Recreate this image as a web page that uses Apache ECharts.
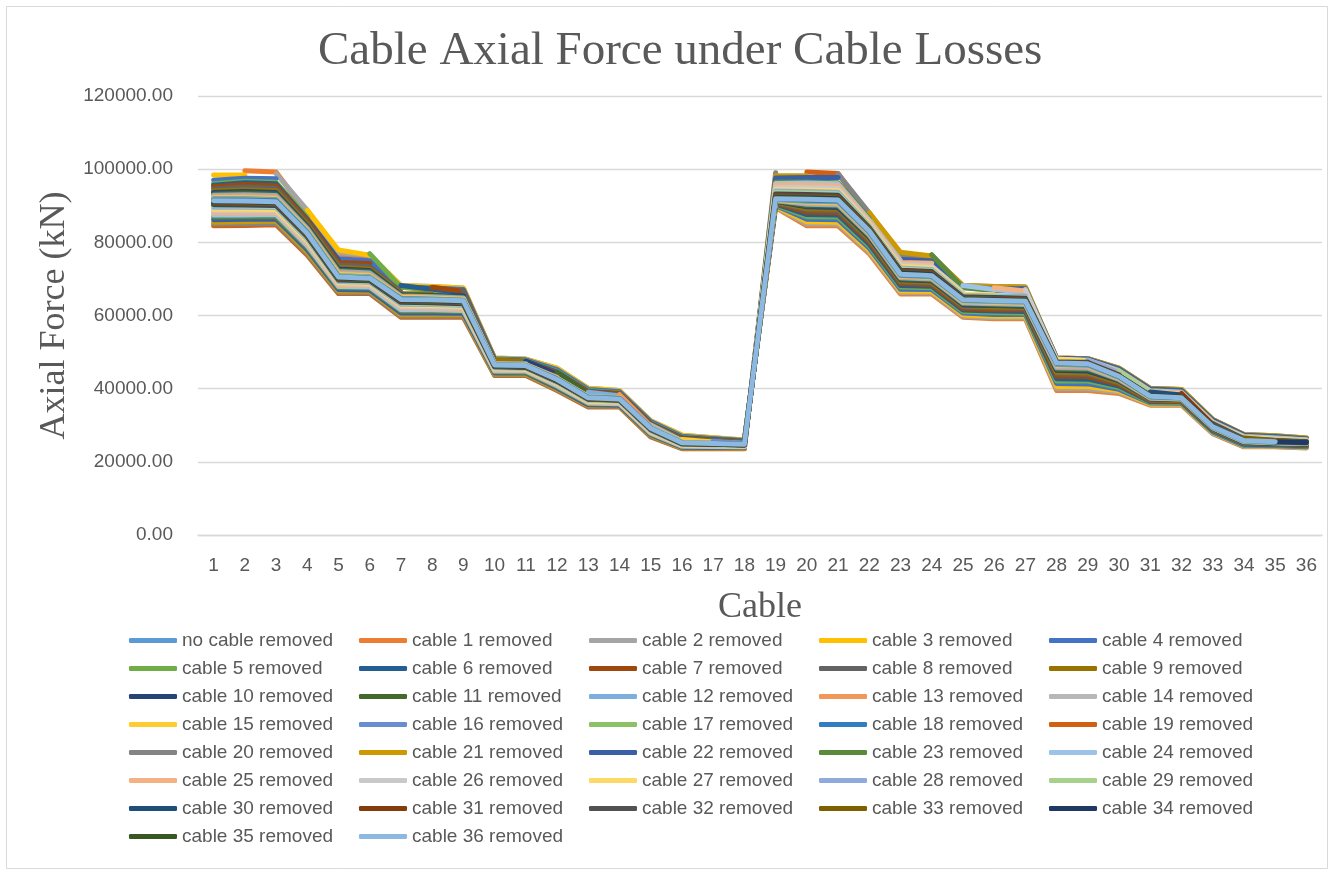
<!DOCTYPE html>
<html>
<head>
<meta charset="utf-8">
<title>Cable Axial Force under Cable Losses</title>
<script src="https://cdn.jsdelivr.net/npm/echarts@6/dist/echarts.min.js"></script>
<style>
  html, body { margin: 0; padding: 0; background: #ffffff; }
  #chart { width: 1331px; height: 873px; }
</style>
</head>
<body>
<div id="chart"></div>
<script>
// Cable positions along the bridge (x axis categories)
const categories = ['1','2','3','4','5','6','7','8','9','10','11','12','13','14','15','16','17','18',
  '19','20','21','22','23','24','25','26','27','28','29','30','31','32','33','34','35','36'];

// Axial force (kN) in every cable, one array per damage case; null = the removed cable
const noCableRemoved = [91500,91400,91200,82500,70500,70200,64500,64300,64000,46500,46300,42500,37500,37200,29200,25200,25000,24800,
  91800,91600,91400,83000,71200,70800,64200,64000,63800,47000,46800,43300,37800,37500,29600,25800,25400,25200];
const cable1Removed = [null,99600,99200,87900,76800,76200,68000,67700,67300,48300,48000,45400,40000,39300,31100,27200,26500,25900,
  89500,84500,84500,76900,65900,65900,59500,59100,59100,39500,39500,38700,35500,35500,27700,24100,24100,23800];
const cable2Removed = [97900,null,98800,88800,77200,76500,68200,67900,67500,48400,48100,45600,40100,39500,31200,27300,26600,26000,
  89700,85000,85000,77300,66300,66200,59800,59400,59400,40000,40000,39000,35700,35600,27800,24200,24200,23900];
const cable3Removed = [98400,98400,null,88800,77900,76500,68200,67900,67500,48400,48100,45600,40100,39500,31200,27300,26600,26000,
  89800,85600,85500,77800,66700,66600,60200,59800,59800,40600,40600,39400,35800,35800,28000,24400,24300,24000];
const cable4Removed = [97000,97500,97400,null,75500,75000,67800,67500,67100,48200,47900,45200,39800,39200,31000,27000,26400,25800,
  90100,86300,86200,78400,67200,67100,60700,60300,60300,41400,41300,39800,36100,36000,28200,24500,24400,24100];
const cable5Removed = [96000,96700,96400,86800,null,76900,67700,66900,66500,47900,47600,44700,39400,38800,30600,26700,26200,25600,
  90300,87000,86900,79000,67800,67600,61100,60800,60700,42100,42100,40300,36300,36200,28400,24700,24600,24300];
const cable6Removed = [95600,96300,96000,86300,75200,null,68200,67200,66300,47800,47500,44500,39200,38700,30500,26600,26100,25600,
  90500,87600,87500,79500,68200,68000,61500,61200,61100,42700,42600,40700,36500,36400,28500,24800,24700,24400];
const cable7Removed = [95200,95800,95500,85900,74500,74200,null,67700,66600,47600,47400,44300,39100,38600,30400,26400,26000,25500,
  90700,88200,88100,80100,68700,68400,61900,61600,61500,43400,43300,41100,36700,36500,28700,25000,24800,24500];
const cable8Removed = [94600,95100,94800,85300,73800,73400,66500,null,66900,47700,47200,44000,38800,38300,30200,26200,25800,25400,
  90900,88800,88600,80600,69100,68800,62300,62000,61900,44000,43900,41500,36900,36700,28800,25100,24900,24600];
const cable9Removed = [94000,94400,94100,84800,73200,72700,66000,65900,null,47900,47300,43700,38500,38100,30000,26000,25600,25300,
  91000,89200,89100,80900,69400,69100,62600,62300,62200,44400,44300,41700,37000,36800,29000,25200,25000,24700];
const cable10Removed = [93600,93900,93600,84400,72700,72300,65700,65500,65300,null,47500,43900,38400,38000,29900,25900,25500,25200,
  91200,89700,89500,81400,69800,69500,62900,62700,62500,45000,44800,42100,37200,37000,29100,25300,25000,24800];
const cable11Removed = [93200,93500,93200,84100,72400,72000,65500,65300,65000,47100,null,44400,38600,37800,29800,25800,25400,25100,
  91300,90000,89900,81700,70000,69700,63200,62900,62800,45300,45200,42300,37300,37100,29200,25400,25100,24900];
const cable12Removed = [92900,93000,92800,83800,72000,71600,65300,65100,64800,46900,46800,null,39000,38000,29600,25700,25400,25100,
  91400,90400,90200,82000,70300,70000,63400,63200,63000,45700,45600,42500,37400,37200,29300,25500,25200,25000];
const cable13Removed = [92600,92700,92500,83500,71700,71300,65200,64900,64600,46800,46600,43100,null,38400,29800,25600,25300,25000,
  91500,90700,90500,82200,70500,70200,63600,63400,63200,46000,45900,42700,37500,37200,29400,25600,25200,25000];
const cable14Removed = [92300,92400,92200,83300,71400,71000,65000,64800,64500,46800,46500,42900,37900,null,30100,25800,25200,25000,
  91600,90900,90700,82400,70700,70300,63700,63500,63300,46200,46100,42800,37600,37300,29400,25600,25300,25100];
const cable15Removed = [92100,92100,91900,83100,71200,70800,64900,64700,64400,46700,46500,42800,37800,37500,null,26100,25400,24900,
  91600,91100,90900,82600,70800,70500,63900,63700,63500,46500,46300,43000,37600,37400,29500,25700,25300,25100];
const cable16Removed = [91900,91900,91700,82900,70900,70600,64700,64500,64200,46600,46400,42700,37700,37400,29400,null,25600,25000,
  91700,91200,91100,82700,70900,70600,64000,63800,63600,46600,46400,43100,37700,37400,29500,25700,25300,25100];
const cable17Removed = [91800,91700,91500,82800,70800,70500,64700,64500,64200,46600,46400,42600,37600,37300,29300,25400,null,25200,
  91700,91400,91200,82800,71000,70700,64100,63900,63700,46800,46600,43200,37700,37400,29500,25700,25400,25200];
const cable18Removed = [91600,91600,91400,82600,70600,70300,64600,64400,64100,46500,46300,42600,37600,37300,29200,25200,25100,null,
  91800,91500,91300,82900,71100,70800,64200,64000,63800,46900,46700,43300,37800,37500,29600,25800,25400,25200];
const cable19Removed = [84500,84600,84800,76500,66000,66000,59500,59500,59500,43600,43600,39500,35000,35000,26800,23600,23600,23600,
  null,99200,98800,87300,76400,76000,67900,67700,67500,48400,48200,45500,40000,39600,31500,27400,27000,26400];
const cable20Removed = [85000,85100,85200,76900,66300,66300,59800,59800,59800,43800,43800,39700,35200,35200,27000,23700,23700,23700,
  99000,null,98700,88100,76700,76300,68200,67900,67800,48400,48200,45600,40100,39800,31600,27500,27100,26500];
const cable21Removed = [85500,85600,85800,77400,66700,66600,60200,60200,60200,44000,44000,39900,35400,35300,27200,23800,23800,23800,
  98200,98200,null,88100,77300,76300,68200,67900,67800,48400,48200,45600,40100,39800,31600,27500,27100,26500];
const cable22Removed = [86200,86300,86400,78000,67100,67000,60700,60700,60600,44300,44300,40200,35600,35500,27400,24000,23900,23900,
  97600,97700,97700,null,75300,74900,67700,67400,67300,48300,48100,45400,39900,39500,31400,27300,26900,26300];
const cable23Removed = [86900,87000,87000,78600,67600,67500,61200,61200,61100,44600,44500,40500,35900,35800,27600,24200,24100,24000,
  96500,96500,96300,86500,null,76600,67600,66800,66700,48000,47800,45000,39500,39100,31000,27000,26600,26100];
const cable24Removed = [87500,87500,87600,79100,67900,67800,61600,61600,61400,44800,44800,40800,36100,35900,27800,24300,24200,24100,
  96100,96200,96000,86100,75000,null,68200,67100,66400,48000,47800,44900,39400,39000,30900,26900,26500,26000];
const cable25Removed = [88100,88100,88100,79600,68300,68200,62100,62000,61800,45100,45000,41100,36300,36100,28000,24400,24300,24200,
  95700,95700,95500,85800,74500,74300,null,67600,66700,47900,47700,44700,39200,38900,30800,26800,26400,26000];
const cable26Removed = [88700,88700,88600,80100,68700,68500,62500,62400,62200,45300,45200,41300,36500,36300,28200,24600,24400,24300,
  95000,95000,94800,85300,73900,73500,66300,null,67100,47900,47500,44500,39000,38600,30600,26700,26300,25800];
const cable27Removed = [89100,89100,89000,80500,69000,68800,62800,62700,62500,45500,45400,41500,36600,36400,28400,24700,24500,24400,
  94400,94300,94100,84800,73400,73000,65800,65700,null,48100,47600,44200,38700,38400,30400,26500,26100,25700];
const cable28Removed = [89600,89600,89500,80900,69300,69100,63100,63000,62800,45700,45600,41700,36800,36600,28500,24800,24600,24500,
  94000,93900,93700,84500,73000,72600,65500,65300,65300,null,47800,44400,38600,38300,30300,26400,26000,25600];
const cable29Removed = [90000,89900,89800,81200,69500,69300,63400,63200,63000,45900,45700,41800,36900,36700,28700,24800,24700,24500,
  93600,93500,93300,84300,72700,72300,65300,65100,64900,47400,null,44700,38800,38100,30200,26300,25900,25600];
const cable30Removed = [90300,90200,90100,81500,69700,69500,63600,63500,63200,46000,45800,42000,37100,36800,28800,24900,24800,24600,
  93200,93100,92900,84000,72400,72000,65100,64900,64700,47300,47200,null,39100,38300,30000,26200,25800,25500];
const cable31Removed = [90600,90500,90400,81700,69900,69700,63800,63700,63400,46100,45900,42100,37200,36900,28900,25000,24800,24600,
  93000,92800,92600,83800,72200,71800,64900,64700,64500,47300,47100,43800,null,38700,30200,26100,25700,25400];
const cable32Removed = [90800,90700,90600,81900,70000,69800,64000,63800,63500,46200,46000,42200,37200,37000,29000,25000,24900,24700,
  92700,92500,92300,83600,71900,71500,64700,64500,64300,47200,47000,43600,38200,null,30500,26300,25600,25400];
const cable33Removed = [91000,90900,90700,82100,70200,69900,64100,64000,63700,46300,46100,42300,37300,37000,29000,25100,24900,24700,
  92400,92300,92100,83500,71700,71300,64600,64400,64200,47100,46900,43500,38000,37800,null,26500,25800,25300];
const cable34Removed = [91100,91100,90900,82200,70300,70000,64200,64100,63800,46300,46200,42300,37400,37100,29100,25100,24900,24700,
  92200,92100,91900,83300,71600,71200,64500,64300,64100,47100,46900,43500,38000,37700,29800,null,25500,25300];
const cable35Removed = [91300,91200,91000,82300,70400,70100,64300,64200,63900,46400,46200,42400,37400,37100,29100,25100,25000,24800,
  92100,91900,91700,83200,71400,71000,64400,64200,64000,47100,46900,43400,37900,37600,29700,25900,null,25700];
const cable36Removed = [91400,91300,91100,82400,70500,70200,64400,64300,64000,46500,46300,42500,37500,37200,29200,25200,25000,24800,
  91900,91800,91600,83100,71300,70900,64300,64100,63900,47000,46800,43400,37900,37500,29600,25800,25500,null];

// Legend names, in drawing order
const seriesNames = ['no cable removed','cable 1 removed','cable 2 removed','cable 3 removed','cable 4 removed',
  'cable 5 removed','cable 6 removed','cable 7 removed','cable 8 removed','cable 9 removed',
  'cable 10 removed','cable 11 removed','cable 12 removed','cable 13 removed','cable 14 removed',
  'cable 15 removed','cable 16 removed','cable 17 removed','cable 18 removed','cable 19 removed',
  'cable 20 removed','cable 21 removed','cable 22 removed','cable 23 removed','cable 24 removed',
  'cable 25 removed','cable 26 removed','cable 27 removed','cable 28 removed','cable 29 removed',
  'cable 30 removed','cable 31 removed','cable 32 removed','cable 33 removed','cable 34 removed',
  'cable 35 removed','cable 36 removed'];

const seriesValues = [noCableRemoved, cable1Removed, cable2Removed, cable3Removed, cable4Removed,
  cable5Removed, cable6Removed, cable7Removed, cable8Removed, cable9Removed,
  cable10Removed, cable11Removed, cable12Removed, cable13Removed, cable14Removed,
  cable15Removed, cable16Removed, cable17Removed, cable18Removed, cable19Removed,
  cable20Removed, cable21Removed, cable22Removed, cable23Removed, cable24Removed,
  cable25Removed, cable26Removed, cable27Removed, cable28Removed, cable29Removed,
  cable30Removed, cable31Removed, cable32Removed, cable33Removed, cable34Removed,
  cable35Removed, cable36Removed];

// Office-style line palette (accents, then darker / lighter variants)
const lineColors = ['#5B9BD5','#ED7D31','#A5A5A5','#FFC000','#4472C4','#70AD47',
  '#255E91','#9E480E','#636363','#997300','#264478','#43682B',
  '#7CAFDD','#F1975A','#B7B7B7','#FFCD33','#698ED0','#8CC168',
  '#327DC2','#D26012','#848484','#CC9A00','#3A5FA5','#5A8A3A',
  '#9DC3E6','#F4B183','#C9C9C9','#FFD966','#8FAADC','#A9D18E',
  '#1F4E79','#843C0C','#525252','#7F6000','#203864','#385723',
  '#8DB8E2'];

const textGrey = '#595959';
const gridGrey = '#D9D9D9';

const chart = echarts.init(document.getElementById('chart'), null, { renderer: 'canvas' });

const series = seriesNames.map((name, i) => ({
  name: name,
  type: 'line',
  data: seriesValues[i],
  showSymbol: false,
  symbol: 'none',
  connectNulls: false,
  color: lineColors[i],
  lineStyle: { width: 5, color: lineColors[i], cap: 'round', join: 'round' },
  emphasis: { disabled: true }
}));

chart.setOption({
  animation: false,
  backgroundColor: '#ffffff',
  title: {
    text: 'Cable Axial Force under Cable Losses',
    left: 318,
    top: 28,
    padding: 0,
    textStyle: { fontFamily: 'Liberation Serif', fontSize: 47, fontWeight: 'normal', color: textGrey }
  },
  graphic: [{
    type: 'rect',
    shape: { x: 6.5, y: 6.5, width: 1321, height: 862 },
    style: { fill: 'none', stroke: gridGrey, lineWidth: 1 },
    silent: true
  }],
  grid: { left: 198, right: 9, top: 96, bottom: 338, containLabel: false },
  legend: {
    data: seriesNames,
    left: 129,
    top: 629,
    width: 1150,
    padding: 0,
    itemGap: 5,
    itemWidth: 48,
    itemHeight: 5,
    icon: 'roundRect',
    selectedMode: false,
    textStyle: {
      fontFamily: 'Liberation Sans',
      fontSize: 19,
      color: textGrey,
      width: 172,
      lineHeight: 23
    }
  },
  xAxis: {
    type: 'category',
    data: categories,
    boundaryGap: true,
    name: 'Cable',
    nameLocation: 'middle',
    nameGap: 55,
    nameTextStyle: { fontFamily: 'Liberation Serif', fontSize: 36, color: textGrey },
    axisLine: { show: true, lineStyle: { color: gridGrey, width: 1.3 } },
    axisTick: { show: false },
    axisLabel: { margin: 21, fontFamily: 'Liberation Sans', fontSize: 19, color: textGrey, interval: 0 },
    splitLine: { show: false }
  },
  yAxis: {
    type: 'value',
    min: 0,
    max: 120000,
    interval: 20000,
    name: 'Axial Force (kN)',
    nameLocation: 'middle',
    nameGap: 123,
    nameTextStyle: { fontFamily: 'Liberation Serif', fontSize: 36, color: textGrey },
    axisLine: { show: false },
    axisTick: { show: false },
    axisLabel: {
      margin: 25,
      fontFamily: 'Liberation Sans',
      fontSize: 19,
      color: textGrey,
      formatter: v => v.toFixed(2)
    },
    splitLine: { show: true, lineStyle: { color: gridGrey, width: 1.3 } }
  },
  series: series
});
</script>
</body>
</html>
